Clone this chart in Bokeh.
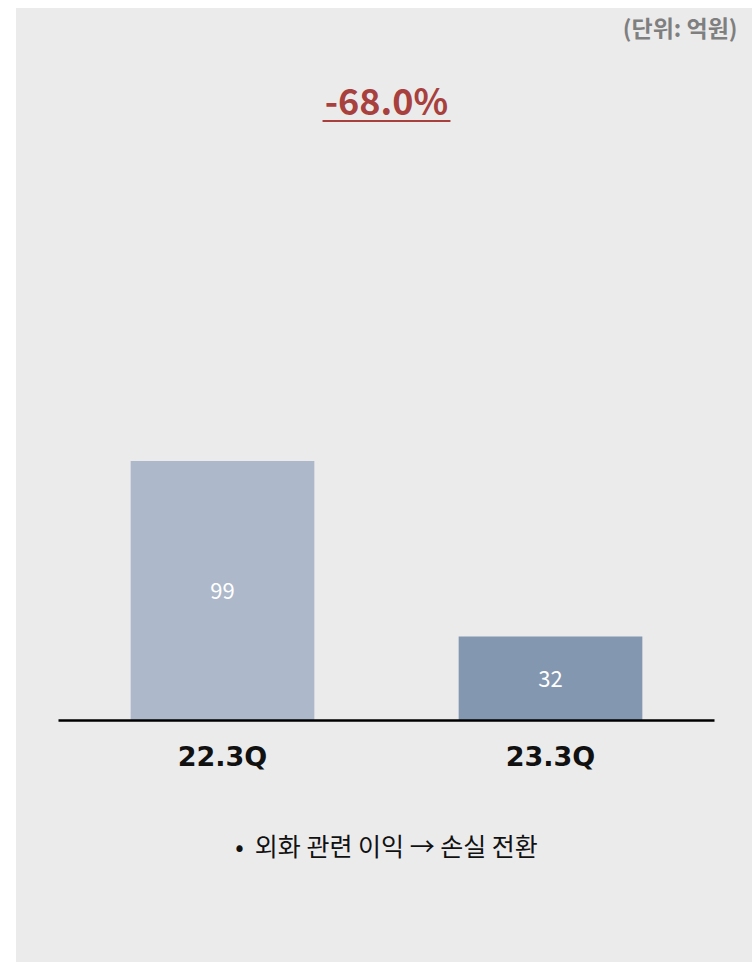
from bokeh.plotting import figure
from bokeh.models import ColumnDataSource, Range1d, FactorRange, Label, Title
from bokeh.core.properties import value
from bokeh.embed import file_html
from bokeh.resources import INLINE

# ---- data ----
categories = ["22.3Q", "23.3Q"]
values = [99, 32]
bar_colors = ["#adb9ca", "#8497b0"]
value_labels = ["99", "32"]
change_label = "-68.0%"
unit_label = "(단위: 억원)"
note_label = "•\u00a0\u00a0외화 관련 이익 → 손실 전환"

BG = "#ebebeb"
FONT = "Noto Sans CJK KR"

src = ColumnDataSource(dict(
    cat=categories,
    val=values,
    mid=[v / 2 for v in values],
    color=bar_colors,
    txt=value_labels,
))

p = figure(
    x_range=FactorRange(*categories),
    y_range=Range1d(0, 247.9),
    width=736, height=954,
    output_backend="svg", toolbar_location=None,
    min_border_left=42, min_border_right=38,
    min_border_top=60, min_border_bottom=242,
    background_fill_color=None, border_fill_color=None,
    outline_line_color=None,
)
p.margin = (8, 0, 0, 16)
p.styles = {"background-color": BG}

p.vbar(x="cat", top="val", width=0.56, color="color", line_color=None, source=src)
p.text(x="cat", y="mid", text="txt", source=src, text_color="white",
       text_font=value(FONT), text_font_size="22px",
       text_align="center", text_baseline="middle")

p.grid.visible = False
p.yaxis.visible = False
xa = p.xaxis[0]
xa.axis_line_color = "black"
xa.axis_line_width = 2.5
xa.major_tick_line_color = None
xa.minor_tick_line_color = None
xa.major_label_text_font = "DejaVu Sans"
xa.major_label_text_font_style = "bold"
xa.major_label_text_font_size = "27px"
xa.major_label_text_color = "#111111"
xa.major_label_standoff = 14

# headline change (centred between the two bars)
red = "#a8403e"
p.add_layout(Label(x=1.0, y=237.2,
                   text=change_label, text_font=FONT, text_font_size="36px",
                   text_font_style="bold", text_color=red,
                   text_align="center", text_baseline="middle"))
p.segment(x0=[0.805], x1=[1.195], y0=[228.6], y1=[228.6],
          line_color=red, line_width=2)

# spacer panel between frame and unit label
p.add_layout(Title(text="\u00a0", standoff=22, text_font_size="1px",
                   text_color=BG), "above")
# unit label (top right)
p.add_layout(Title(text=unit_label, align="right", offset=-23, standoff=1,
                   vertical_align="middle",
                   text_font=FONT, text_font_size="23px", text_font_style="bold",
                   text_color="#7f7f7f"), "above")

# note below
p.add_layout(Title(text=note_label, align="center", standoff=101,
                   text_font=FONT, text_font_size="25px", text_font_style="normal",
                   text_color="#111111"), "below")

open("out.html", "w").write(file_html(p, INLINE))
